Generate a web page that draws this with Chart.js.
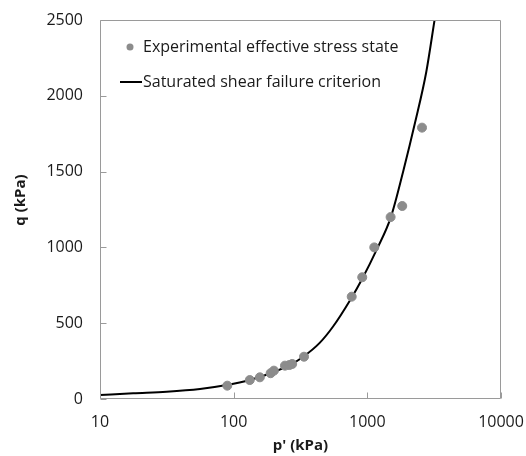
<!DOCTYPE html>
<html>
<head>
<meta charset="utf-8">
<script src="https://cdn.jsdelivr.net/npm/chart.js@4"></script>
<style>
  html, body { margin: 0; padding: 0; background: #fff; }
</style>
</head>
<body>
<canvas id="grafica" width="526" height="456"></canvas>
<script>
// puntos experimentales (p', q) en kPa
const pExp = [89.6, 132, 157, 189, 200, 242, 261, 274, 336, 764, 916, 1127, 1493, 1824, 2565];
const qExp = [88, 125, 143, 170, 187, 220, 224, 231, 279, 675, 803, 1000, 1200, 1273, 1790];

// criterio de falla
const pCurve = [10, 17.7, 31.5, 56, 88.7, 132, 189, 264, 332, 440, 556, 741, 912, 1182, 1500, 1866, 2285, 2762, 3184];
const qCurve = [26, 38, 48, 66, 92, 125, 170, 225, 279, 370, 480, 650, 790, 990, 1200, 1511, 1830, 2159, 2500];

const xTicks = [10, 100, 1000, 10000];
const yTicks = [0, 500, 1000, 1500, 2000, 2500];

const labelExp = 'Experimental effective stress state';
const labelCurve = 'Saturated shear failure criterion';
const tituloX = "p' (kPa)";
const tituloY = 'q (kPa)';

const fuente = '"Open Sans", sans-serif';
const gris = '#8c8c8c';
const ejeColor = '#9a9a9a';
const texto = '#1a1a1a';

// marco, marcas hacia adentro, etiquetas, titulos y leyenda
const marco = {
  id: 'marco',
  afterDraw(chart) {
    const { ctx, chartArea: a, scales } = chart;
    ctx.save();
    ctx.strokeStyle = ejeColor;
    ctx.lineWidth = 1;
    ctx.beginPath();
    const l = Math.round(a.left) + 0.5, r = Math.round(a.right) - 0.5;
    const t = Math.round(a.top) + 0.5, b = Math.round(a.bottom) - 0.5;
    ctx.moveTo(l, t); ctx.lineTo(r, t); ctx.lineTo(r, b); ctx.lineTo(l, b); ctx.closePath();
    xTicks.forEach(v => {
      const x = Math.round(scales.x.getPixelForValue(v)) + 0.5;
      ctx.moveTo(x, b);
      ctx.lineTo(x, b - 6);
    });
    yTicks.forEach(v => {
      const y = Math.round(scales.y.getPixelForValue(v)) + 0.5;
      ctx.moveTo(l, y);
      ctx.lineTo(l + 6, y);
    });
    ctx.stroke();

    // etiquetas de los ejes
    ctx.fillStyle = texto;
    ctx.textBaseline = 'middle';
    ctx.font = '16px ' + fuente;
    ctx.textAlign = 'right';
    yTicks.forEach(v => ctx.fillText(String(v), a.left - 17, scales.y.getPixelForValue(v)));
    ctx.textAlign = 'center';
    xTicks.forEach(v => ctx.fillText(String(v), scales.x.getPixelForValue(v), a.bottom + 23));

    // titulos de ejes
    ctx.font = 'bold 15px ' + fuente;
    ctx.fillText(tituloX, (a.left + a.right) / 2, 446);
    ctx.save();
    ctx.translate(21, 200);
    ctx.rotate(-Math.PI / 2);
    ctx.fillText(tituloY, 0, 0);
    ctx.restore();

    // leyenda
    ctx.textAlign = 'left';
    ctx.font = '16px ' + fuente;
    ctx.fillStyle = gris;
    ctx.beginPath();
    ctx.arc(130, 47, 3.5, 0, Math.PI * 2);
    ctx.fill();
    ctx.fillStyle = texto;
    ctx.fillText(labelExp, 143, 47);
    ctx.strokeStyle = '#000';
    ctx.lineWidth = 2;
    ctx.beginPath();
    ctx.moveTo(120, 82);
    ctx.lineTo(142, 82);
    ctx.stroke();
    ctx.fillText(labelCurve, 143, 82);
    ctx.restore();
  }
};

const ctx = document.getElementById('grafica').getContext('2d');
new Chart(ctx, {
  type: 'scatter',
  data: {
    datasets: [{
      label: labelExp,
      data: pExp.map((p, i) => ({ x: p, y: qExp[i] })),
      backgroundColor: gris,
      borderColor: gris,
      pointRadius: 4.5,
      pointHoverRadius: 4.5,
      order: 1
    }, {
      label: labelCurve,
      type: 'line',
      data: pCurve.map((p, i) => ({ x: p, y: qCurve[i] })),
      borderColor: '#000',
      borderWidth: 2,
      pointRadius: 0,
      cubicInterpolationMode: 'monotone',
      fill: false,
      order: 2
    }]
  },
  options: {
    responsive: false,
    animation: false,
    layout: { padding: { top: 20, right: 25, left: 0, bottom: 0 } },
    plugins: { legend: { display: false }, tooltip: { enabled: false } },
    scales: {
      x: {
        type: 'logarithmic',
        min: 10,
        max: 10000,
        afterBuildTicks: s => { s.ticks = xTicks.map(v => ({ value: v })); },
        afterFit: s => { s.height = 57; },
        grid: { display: false, drawTicks: false },
        border: { display: false },
        ticks: { display: false }
      },
      y: {
        min: 0,
        max: 2500,
        afterBuildTicks: s => { s.ticks = yTicks.map(v => ({ value: v })); },
        afterFit: s => { s.width = 100; },
        grid: { display: false, drawTicks: false },
        border: { display: false },
        ticks: { display: false }
      }
    }
  },
  plugins: [marco]
});
</script>
</body>
</html>
